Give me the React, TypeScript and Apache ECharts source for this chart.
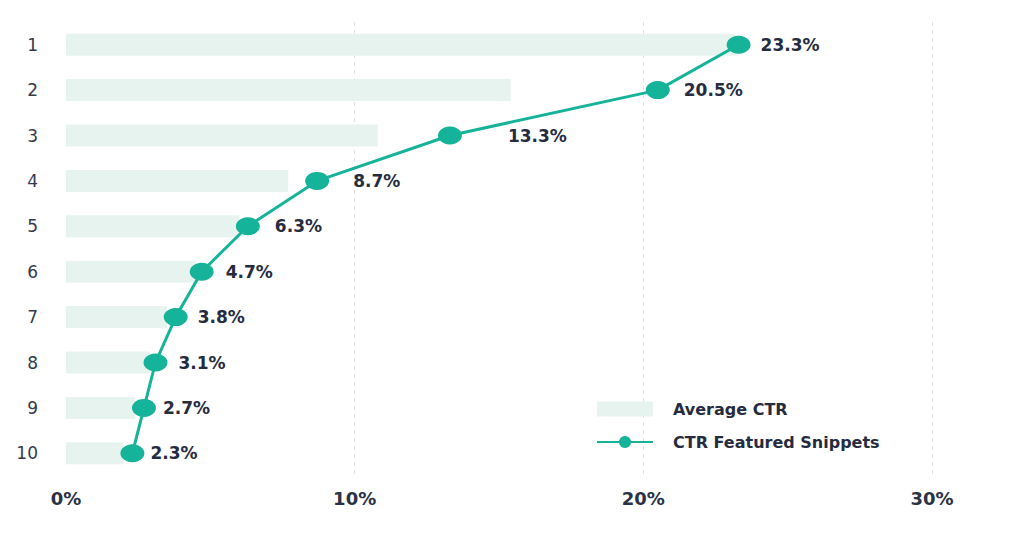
import React, { useEffect, useRef } from "react";
import * as echarts from "echarts";

const positions = ["1", "2", "3", "4", "5", "6", "7", "8", "9", "10"];
const averageCtr = [23.2, 15.4, 10.8, 7.7, 6.0, 4.5, 3.5, 2.9, 2.4, 2.0];
const featuredCtr = [23.3, 20.5, 13.3, 8.7, 6.3, 4.7, 3.8, 3.1, 2.7, 2.3];
const xTicks = [0, 10, 20, 30];
const labelGaps = [10, 14, 46, 24, 15, 12, 10, 11, 7, 6];

const TEAL = "#14b39a";
const BAR = "#e6f3ef";
const TEXT = "#262c40";
const FONT = "'DejaVu Sans', sans-serif";

export default function App() {
  const ref = useRef<HTMLDivElement>(null);
  useEffect(() => {
    if (!ref.current) return;
    const chart = echarts.init(ref.current, null, { renderer: "svg" });
    chart.setOption({
      animation: false,
      backgroundColor: "#ffffff",
      grid: { left: 66, right: 92, top: 22, bottom: 60, containLabel: false },
      legend: {
        orient: "vertical",
        left: 591,
        top: 396,
        itemWidth: 56,
        itemHeight: 15,
        itemGap: 17,
        selectedMode: false,
        textStyle: {
          color: TEXT,
          fontFamily: FONT,
          fontWeight: "bold",
          fontSize: 16,
          padding: [0, 0, 0, 15],
        },
        data: [
          { name: "Average CTR", icon: "rect" },
          { name: "CTR Featured Snippets" },
        ],
      },
      xAxis: {
        type: "value",
        min: xTicks[0],
        max: xTicks[xTicks.length - 1],
        interval: 10,
        axisLine: { show: false },
        axisTick: { show: false },
        axisLabel: {
          formatter: "{value}%",
          color: "#2b3245",
          fontFamily: FONT,
          fontWeight: "bold",
          fontSize: 18,
          margin: 13,
        },
        splitLine: {
          show: true,
          showMinLine: false,
          lineStyle: { color: "#e2e2e2", type: [4, 4], width: 1 },
        },
      },
      yAxis: {
        type: "category",
        data: positions,
        inverse: true,
        axisLine: { show: false },
        axisTick: { show: false },
        axisLabel: {
          color: "#333a4e",
          fontFamily: FONT,
          fontSize: 17,
          margin: 28,
          align: "right",
        },
        splitLine: { show: false },
      },
      series: [
        {
          name: "Average CTR",
          type: "bar",
          data: averageCtr,
          barWidth: 22,
          itemStyle: { color: BAR },
          z: 1,
        },
        {
          name: "CTR Featured Snippets",
          type: "line",
          data: featuredCtr.map((v, i) => ({
            value: v,
            label: { distance: labelGaps[i] },
          })),
          symbol: "circle",
          symbolSize: [24, 18],
          lineStyle: { color: TEAL, width: 3 },
          itemStyle: { color: TEAL },
          z: 3,
          label: {
            show: true,
            position: "right",
            formatter: (p: any) => `${p.value}%`,
            color: TEXT,
            fontFamily: FONT,
            fontWeight: "bold",
            fontSize: 17,
          },
        },
      ],
    });
    return () => chart.dispose();
  }, []);
  return <div ref={ref} style={{ width: 1024, height: 536, margin: -8 }} />;
}
